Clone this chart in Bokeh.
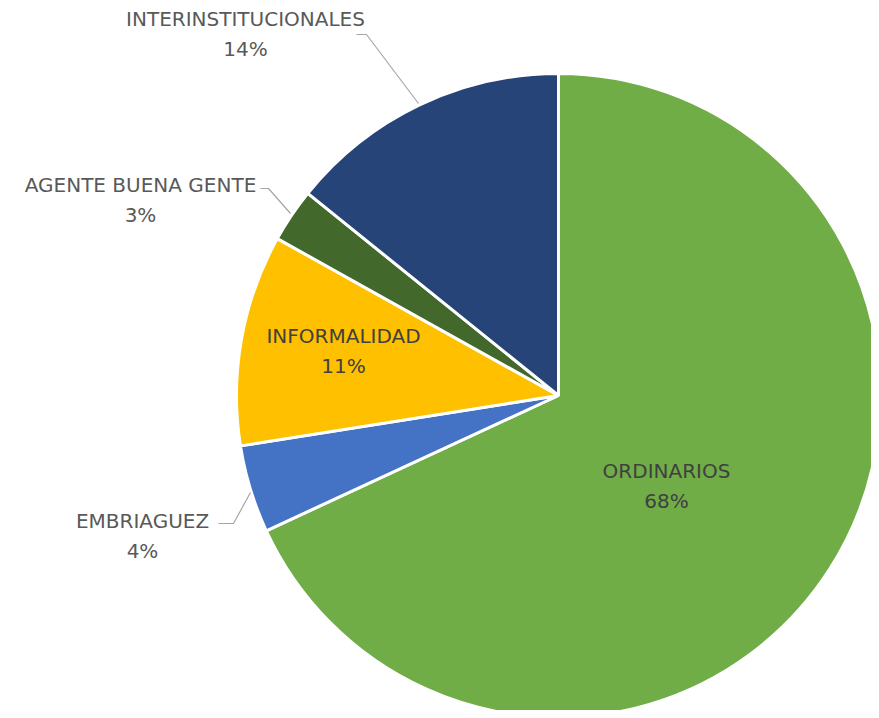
import math
from bokeh.plotting import figure
from bokeh.models import Range1d, ColumnDataSource
from bokeh.core.properties import value
from bokeh.embed import file_html
from bokeh.resources import INLINE

categories = ["ORDINARIOS", "EMBRIAGUEZ", "INFORMALIDAD", "AGENTE BUENA GENTE", "INTERINSTITUCIONALES"]
shares = [68.1, 4.4, 10.6, 2.7, 14.2]
pct_labels = ["68%", "4%", "11%", "3%", "14%"]
colors = ["#70AD47", "#4472C4", "#FFC000", "#43682B", "#264478"]

# layout (pixel-based, pie center & radius in image pixels)
CX, CY, R = 558, 395, 322
W, H = 871, 710

def px(x):
    return (x - CX) / R

def py(y):
    return (CY - y) / R

total = sum(shares)
starts, ends = [], []
cum = 0.0
for s in shares:
    starts.append(math.pi / 2 - 2 * math.pi * cum / total)
    cum += s
    ends.append(math.pi / 2 - 2 * math.pi * cum / total)

p = figure(width=W, height=H, output_backend="svg", toolbar_location=None,
           x_range=Range1d(px(0), px(W)), y_range=Range1d(py(H), py(0)),
           min_border=0)
p.axis.visible = False
p.grid.visible = False
p.outline_line_color = None
p.background_fill_color = "white"
p.border_fill_color = "white"

src = ColumnDataSource(dict(start=starts, end=ends, color=colors))
p.wedge(x=0, y=0, radius=1.0, start_angle="start", end_angle="end", direction="clock",
        fill_color="color", line_color="white", line_width=3, source=src)

# label placement (image pixel positions)
label_pos = [(666, 470), (142, 520), (343, 335), (140, 184), (245, 18)]
inside = [True, False, True, False, False]
for name, pct, (lx, ly), ins in zip(categories, pct_labels, label_pos, inside):
    col = "#404040" if ins else "#595959"
    p.text(x=[px(lx)], y=[py(ly)], text=[name], text_align="center", text_baseline="middle",
           text_font=value("DejaVu Sans"), text_font_size="20px", text_color=col)
    p.text(x=[px(lx)], y=[py(ly + 30)], text=[pct], text_align="center", text_baseline="middle",
           text_font=value("DejaVu Sans"), text_font_size="20px", text_color=col)

leaders = [
    [(356, 34), (366, 34), (418, 103)],
    [(260, 188), (268, 188), (290, 213)],
    [(218, 523), (233, 523), (250, 492)],
]
for pts in leaders:
    p.line(x=[px(a) for a, b in pts], y=[py(b) for a, b in pts], line_color="#A6A6A6", line_width=1.2)

open("out.html", "w").write(file_html(p, INLINE))
